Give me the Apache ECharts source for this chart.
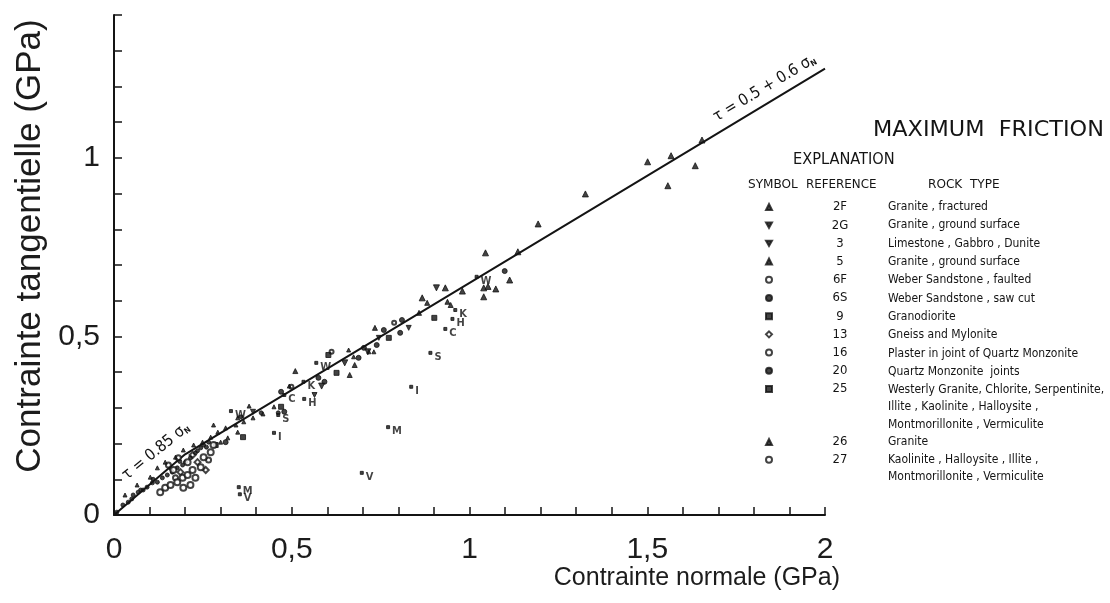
<!DOCTYPE html>
<html>
<head>
<meta charset="utf-8">
<script src="https://cdn.jsdelivr.net/npm/echarts@6/dist/echarts.min.js"></script>
<style>
  html, body { margin: 0; padding: 0; background: #ffffff; }
  #chart { width: 1110px; height: 603px; }
</style>
</head>
<body>
<div id="chart"></div>
<script>
// Maximum friction: shear stress vs normal stress (GPa), grouped by reference.
const ref2F = [[1.501,0.989],[1.567,1.006],[1.635,0.978],[1.558,0.922],[1.654,1.050],[1.326,0.899],[1.193,0.815],[1.136,0.737],[1.045,0.734],[1.113,0.658],[1.074,0.633],[1.040,0.636],[1.052,0.640],[1.040,0.611],[0.980,0.627],[0.932,0.636],[0.867,0.608]];
const ref2G = [[0.907,0.636],[0.584,0.361],[0.649,0.426],[0.714,0.457]];
const ref3  = [[0.745,0.496],[0.564,0.336],[0.829,0.524],[0.391,0.289]];
const ref5  = [[0.881,0.594],[0.858,0.566],[0.734,0.524],[0.677,0.420],[0.663,0.392],[0.510,0.403],[0.938,0.597],[0.947,0.588]];
const ref6F = [[0.788,0.538],[0.612,0.457],[0.499,0.359]];
const ref6S = [[1.099,0.683],[0.759,0.518],[0.810,0.546],[0.805,0.510],[0.688,0.440],[0.592,0.373],[0.470,0.345],[0.703,0.468],[0.575,0.384],[0.479,0.289],[0.314,0.204],[0.739,0.476]];
const ref9  = [[0.363,0.218],[0.626,0.398],[0.773,0.496],[0.470,0.303],[0.901,0.552],[0.286,0.196],[0.603,0.448]];
const ref13 = [[0.187,0.120],[0.235,0.148],[0.258,0.126],[0.221,0.168]];
const ref16 = [[0.173,0.104],[0.153,0.140],[0.181,0.160],[0.266,0.154]];
const ref20 = [[0.008,0.008],[0.025,0.028],[0.040,0.036],[0.054,0.056],[0.068,0.064],[0.082,0.070],[0.093,0.078],[0.108,0.090],[0.122,0.092],[0.136,0.104],[0.150,0.112],[0.164,0.120],[0.178,0.132],[0.193,0.140],[0.201,0.148],[0.215,0.160],[0.229,0.174],[0.244,0.188],[0.252,0.196],[0.266,0.204],[0.462,0.286],[0.414,0.286],[0.357,0.275],[0.050,0.045],[0.075,0.070],[0.110,0.100],[0.160,0.130],[0.185,0.150],[0.235,0.180],[0.260,0.190]];
const ref25 = [[1.020,0.667],[0.960,0.574],[0.952,0.549],[0.932,0.521],[0.890,0.454],[0.836,0.359],[0.771,0.246],[0.697,0.118],[0.569,0.426],[0.533,0.373],[0.535,0.325],[0.479,0.336],[0.329,0.291],[0.462,0.280],[0.450,0.230],[0.351,0.078],[0.354,0.058]];
const ref25Letters = ['W','K','H','C','S','I','M','V','W','K','H','C','W','S','I','M','V'];
const ref26 = [[0.031,0.056],[0.065,0.084],[0.102,0.106],[0.122,0.132],[0.144,0.148],[0.173,0.162],[0.195,0.182],[0.224,0.196],[0.249,0.204],[0.272,0.218],[0.292,0.232],[0.314,0.244],[0.343,0.252],[0.365,0.261],[0.300,0.204],[0.320,0.216],[0.348,0.232],[0.280,0.252],[0.391,0.272],[0.419,0.283],[0.380,0.305],[0.674,0.443],[0.660,0.462],[0.493,0.361],[0.450,0.303],[0.348,0.272],[0.731,0.457],[0.717,0.457]];
const ref27 = [[0.130,0.064],[0.144,0.076],[0.159,0.084],[0.178,0.092],[0.193,0.104],[0.207,0.112],[0.221,0.126],[0.167,0.126],[0.207,0.148],[0.244,0.134],[0.252,0.162],[0.272,0.176],[0.280,0.196],[0.215,0.084],[0.229,0.104],[0.195,0.076]];

// Byerlee's law: 0.85 σN up to 0.2 GPa, then 0.05 + 0.6 σN
const lawX = [0, 0.2, 2];
const lawY = [0, 0.17, 1.25];

// Explanation table
const refCodes1 = ['2F','2G','3','5','6F','6S','9','13','16','20','25'];
const refCodes2 = ['26','27'];
const rockTypes1 = [
  'Granite , fractured',
  'Granite , ground surface',
  'Limestone , Gabbro , Dunite',
  'Granite , ground surface',
  'Weber Sandstone , faulted',
  'Weber Sandstone , saw cut',
  'Granodiorite',
  'Gneiss and Mylonite',
  'Plaster in joint of Quartz Monzonite',
  'Quartz Monzonite  joints',
  'Westerly Granite, Chlorite, Serpentinite,\nIllite , Kaolinite , Halloysite ,\nMontmorillonite , Vermiculite'
];
const rockTypes2 = [
  'Granite',
  'Kaolinite , Halloysite , Illite ,\nMontmorillonite , Vermiculite'
];

const INK = '#141414';
const NARROW = '"DejaVu Sans Condensed", "Liberation Sans Narrow", sans-serif';
const SANS = '"Liberation Sans", Arial, Helvetica, sans-serif';
const downTri = 'path://M0,0 L10,0 L5,9 Z';

const symbolFor = {
  '2F': ['triangle', 6], '2G': [downTri, 6], '3': [downTri, 5], '5': ['triangle', 5],
  '6F': ['emptyCircle', 4], '6S': ['circle', 5], '9': ['rect', 5], '13': ['emptyDiamond', 6],
  '16': ['emptyCircle', 5], '20': ['circle', 4], '25': ['rect', 3], '26': ['triangle', 4],
  '27': ['emptyCircle', 6]
};
const dataFor = {
  '2F': ref2F, '2G': ref2G, '3': ref3, '5': ref5, '6F': ref6F, '6S': ref6S, '9': ref9,
  '13': ref13, '16': ref16, '20': ref20, '26': ref26, '27': ref27,
  '25': ref25.map((p, i) => ({ value: p, name: ref25Letters[i] }))
};

const scatterSeries = refCodes1.concat(refCodes2).map(code => ({
  name: code,
  type: 'scatter',
  symbol: symbolFor[code][0],
  symbolSize: symbolFor[code][1],
  itemStyle: { color: INK, borderColor: INK, borderWidth: 1 },
  data: dataFor[code],
  z: 3,
  label: code === '25' ? {
    show: true, formatter: '{b}', position: 'right', distance: 2, offset: [0, 4],
    fontFamily: NARROW, fontSize: 11, fontWeight: 'bold', color: INK
  } : { show: false }
}));

const lawSeries = {
  name: 'law', type: 'line',
  data: lawX.map((x, i) => [x, lawY[i]]),
  showSymbol: false, symbol: 'none',
  lineStyle: { color: INK, width: 2 },
  z: 2, silent: true,
  markPoint: {
    symbol: 'circle', symbolSize: 0, silent: true,
    label: { show: true, color: INK, fontFamily: NARROW,
      rich: { t: { fontSize: 16, fontFamily: NARROW, color: INK },
              s: { fontSize: 8, fontFamily: NARROW, color: INK, fontWeight: 'bold', padding: [8, 0, 0, 0] } } },
    data: [
      { coord: [0.118, 0.178], label: { formatter: '{t|τ = 0.85 σ}{s|N}', rotate: 39 } },
      { coord: [1.83, 1.195], label: { formatter: '{t|τ = 0.5 + 0.6 σ}{s|N}', rotate: 31 } }
    ]
  }
};

const tickFmt = v => {
  const k = Math.round(v * 10);
  if (k % 5 !== 0) return '';
  return String(k / 10).replace('.', ',');
};

const axisCommon = {
  type: 'value',
  interval: 0.1,
  splitLine: { show: false },
  axisLine: { show: true, onZero: false, lineStyle: { color: INK, width: 2 } },
  axisTick: { show: true, inside: true, length: 8, lineStyle: { color: INK, width: 1.5 } },
  axisLabel: { formatter: tickFmt, fontFamily: SANS, fontSize: 30, color: '#1c1c1c' }
};

// Explanation header and rock-type column
const pitch1 = 18.3, pitch2 = 18, lineH = 17.3, itemH = 13.1;
const headStyle = (size) => ({ fill: INK, fontFamily: NARROW, fontSize: size, verticalAlign: 'middle' });
const graphics = [
  { type: 'text', x: 873, y: 130, scaleX: 1.13, style: Object.assign({ text: 'MAXIMUM  FRICTION' }, headStyle(22)) },
  { type: 'text', x: 793, y: 160, scaleX: 1.08, style: Object.assign({ text: 'EXPLANATION' }, headStyle(15)) },
  { type: 'text', x: 748, y: 185, scaleX: 1.12, style: Object.assign({ text: 'SYMBOL' }, headStyle(12)) },
  { type: 'text', x: 806, y: 185, scaleX: 1.1, style: Object.assign({ text: 'REFERENCE' }, headStyle(12)) },
  { type: 'text', x: 928, y: 185, scaleX: 1.12, style: Object.assign({ text: 'ROCK  TYPE' }, headStyle(12)) }
];
rockTypes1.forEach((t, i) => graphics.push({ type: 'text', x: 888, y: 207 + pitch1 * i - lineH / 2,
  style: { text: t, fill: INK, fontFamily: NARROW, fontSize: 12, lineHeight: lineH, verticalAlign: 'top' } }));
rockTypes2.forEach((t, i) => graphics.push({ type: 'text', x: 888, y: 442 + pitch2 * i - lineH / 2,
  style: { text: t, fill: INK, fontFamily: NARROW, fontSize: 12, lineHeight: lineH, verticalAlign: 'top' } }));

const legendCommon = {
  orient: 'vertical', left: 765, itemWidth: 6, itemHeight: 6, padding: 0,
  selectedMode: false,
  formatter: name => '{r|' + name + '}',
  textStyle: { color: INK, fontFamily: NARROW, fontSize: 13,
    rich: { r: { width: 126, align: 'center', fontSize: 13, fontFamily: NARROW, color: INK, height: 12, lineHeight: 12 } } }
};

const chart = echarts.init(document.getElementById('chart'), null, { renderer: 'canvas' });
chart.setOption({
  backgroundColor: '#ffffff',
  animation: false,
  grid: { left: 114, right: 285, top: 15, bottom: 88, outerBoundsMode: 'none' },
  xAxis: Object.assign({}, axisCommon, {
    min: 0, max: 2,
    axisLabel: Object.assign({}, axisCommon.axisLabel, { margin: 20 }),
    name: 'Contrainte normale (GPa)', nameLocation: 'end', nameGap: 15,
    nameTextStyle: { fontFamily: SANS, fontSize: 25, color: '#1c1c1c', align: 'right', verticalAlign: 'top', padding: [51, 0, 0, 0] }
  }),
  yAxis: Object.assign({}, axisCommon, {
    min: 0, max: 1.4,
    axisLabel: Object.assign({}, axisCommon.axisLabel, { margin: 14 }),
    name: 'Contrainte tangentielle (GPa)', nameLocation: 'middle', nameGap: 64, nameRotate: 90,
    nameTextStyle: { fontFamily: SANS, fontSize: 35, color: '#1c1c1c', padding: [0, 0, 0, 38] }
  }),
  legend: [
    Object.assign({}, legendCommon, { top: 207 - itemH / 2, itemGap: pitch1 - itemH, data: refCodes1 }),
    Object.assign({}, legendCommon, { top: 442 - itemH / 2, itemGap: pitch2 - itemH, data: refCodes2 })
  ],
  graphic: graphics,
  series: [lawSeries].concat(scatterSeries)
});
</script>
</body>
</html>
